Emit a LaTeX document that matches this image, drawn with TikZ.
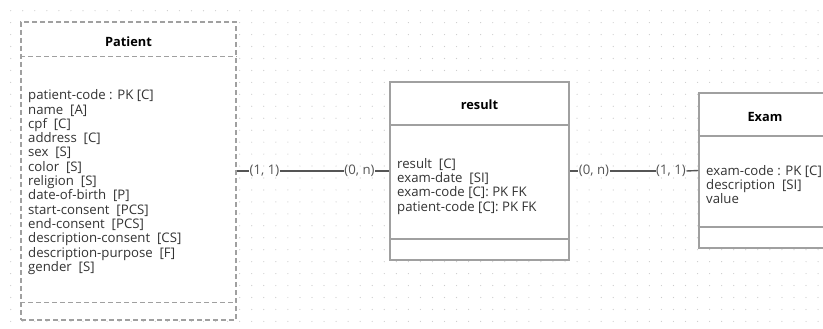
\documentclass[tikz,border=0pt]{standalone}
\usepackage{fontspec}
\setmainfont{Open Sans}
\usetikzlibrary{calc}

\definecolor{dotgray}{HTML}{CCCCCC}
\definecolor{boxgray}{HTML}{A0A0A0}
\definecolor{linegray}{HTML}{555555}
\definecolor{txtgray}{HTML}{333333}

\tikzset{
  entity/.style={draw=boxgray, line width=1.5pt, fill=white, inner sep=0pt},
  weakentity/.style={entity, dash pattern=on 5pt off 3pt, line width=1.3pt},
  title/.style={font=\fontsize{12.8}{14}\selectfont\bfseries, text=black},
  attrs/.style={font=\fontsize{13.2}{14.3}\selectfont, text=txtgray, align=left, inner sep=0pt, anchor=north west},
  card/.style={font=\fontsize{13.2}{14}\selectfont, text=linegray, inner sep=0.5pt},
  conn/.style={linegray, line width=1.4pt}
}

\begin{document}
\begin{tikzpicture}[x=1pt, y=-1pt]

\clip (0,0) rectangle (823,329);
\fill[white] (0,0) rectangle (823,329);

% dotted background
\foreach \i in {0,...,68}
  \foreach \j in {0,...,26}
    \fill[dotgray] (10.7+12.05*\i, 10.7+11.95*\j) circle (0.6pt);

% Patient
\node[weakentity, minimum width=215pt, minimum height=298pt] (patient) at (128.5,171) {};
\draw[weakentity] ([yshift=-35pt]patient.north west) -- ([yshift=-35pt]patient.north east);
\draw[weakentity] ([yshift=18pt]patient.south west) -- ([yshift=18pt]patient.south east);
\node[title] (patienttitle) at (128.5,42) {Patient};
\node[attrs] (patientattrs) at (28,89.5) {patient-code : PK [C]\\ name\ \ [A]\\ cpf\ \ [C]\\ address\ \ [C]\\ sex\ \ [S]\\ color\ \ [S]\\ religion\ \ [S]\\ date-of-birth\ \ [P]\\ start-consent\ \ [PCS]\\ end-consent\ \ [PCS]\\ description-consent\ \ [CS]\\ description-purpose\ \ [F]\\ gender\ \ [S]};

% result
\node[entity, minimum width=179pt, minimum height=178pt] (result) at (479.5,171) {};
\draw[entity] ([yshift=-44pt]result.north west) -- ([yshift=-44pt]result.north east);
\draw[entity] ([yshift=22pt]result.south west) -- ([yshift=22pt]result.south east);
\node[title] (resulttitle) at (479.5,105) {result};
\node[attrs] (resultattrs) at (397,158) {result\ \ [C]\\ exam-date\ \ [SI]\\ exam-code [C]: PK FK\\ patient-code [C]: PK FK};

% Exam
\node[entity, minimum width=132pt, minimum height=155pt] (exam) at (765,170.5) {};
\draw[entity] ([yshift=-44pt]exam.north west) -- ([yshift=-44pt]exam.north east);
\draw[entity] ([yshift=22pt]exam.south west) -- ([yshift=22pt]exam.south east);
\node[title] (examtitle) at (765,117) {Exam};
\node[attrs] (examattrs) at (706,165) {exam-code : PK [C]\\ description\ \ [SI]\\ value};

% cardinalities
\node[card] (pc) at (264.5,171) {(1, 1)};
\node[card] (rp) at (359.5,171) {(0, n)};
\node[card] (re) at (594,171) {(0, n)};
\node[card] (er) at (671,171) {(1, 1)};

\draw[conn] (patient.east) -- (pc.west);
\draw[conn] (pc.east) -- (rp.west);
\draw[conn] (rp.east) -- (result.west);
\draw[conn] (result.east) -- (re.west);
\draw[conn] (re.east) -- (er.west);
\draw[conn] (er.east) -- (exam.west);

\end{tikzpicture}
\end{document}
